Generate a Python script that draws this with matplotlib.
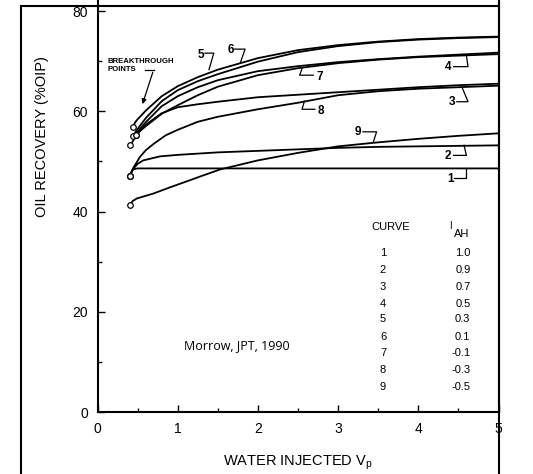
import matplotlib
matplotlib.use("Agg")
import matplotlib.pyplot as plt
from matplotlib.lines import Line2D

plt.rcParams['font.family'] = ['Liberation Sans', 'DejaVu Sans']

# curve data (water injected Vp, oil recovery %OIP)
c1_x = [0.40, 0.44, 0.50, 1.0, 2.0, 3.0, 4.0, 5.0]
c1_y = [47.1, 48.4, 48.6, 48.6, 48.6, 48.6, 48.6, 48.6]

c2_x = [0.40, 0.45, 0.50, 0.57, 0.78, 1.0, 1.5, 2.0, 2.5, 3.0, 3.5, 4.0, 4.5, 5.0]
c2_y = [47.1, 48.6, 49.5, 50.2, 51.0, 51.3, 51.8, 52.1, 52.4, 52.7, 52.9, 53.0, 53.1, 53.2]

c3_x = [0.41, 0.45, 0.50, 0.60, 0.80, 1.0, 1.25, 1.5, 2.0, 2.5, 3.0, 3.5, 4.0, 4.5, 5.0]
c3_y = [53.2, 54.3, 55.5, 57.3, 59.6, 60.8, 61.4, 61.9, 62.8, 63.3, 63.8, 64.3, 64.8, 65.2, 65.5]

c4_x = [0.48, 0.52, 0.60, 0.80, 1.0, 1.25, 1.5, 2.0, 2.5, 3.0, 3.5, 4.0, 4.5, 5.0]
c4_y = [55.3, 56.3, 57.8, 61.0, 63.0, 64.8, 66.2, 68.0, 69.0, 69.8, 70.4, 70.9, 71.3, 71.7]

c5_x = [0.44, 0.47, 0.50, 0.60, 0.80, 1.0, 1.25, 1.5, 2.0, 2.5, 3.0, 3.5, 4.0, 4.5, 5.0]
c5_y = [56.9, 57.8, 58.4, 60.1, 63.0, 65.0, 66.8, 68.3, 70.6, 72.2, 73.2, 73.9, 74.4, 74.7, 74.9]

c6_x = [0.44, 0.48, 0.52, 0.60, 0.80, 1.0, 1.25, 1.5, 2.0, 2.5, 3.0, 3.5, 4.0, 4.5, 5.0]
c6_y = [55.0, 56.0, 56.9, 58.6, 62.0, 64.2, 66.0, 67.4, 69.9, 71.8, 73.0, 73.8, 74.3, 74.6, 74.8]

c7_x = [0.48, 0.52, 0.60, 0.80, 1.0, 1.25, 1.5, 2.0, 2.5, 3.0, 3.5, 4.0, 4.5, 5.0]
c7_y = [55.3, 55.9, 57.0, 59.5, 61.2, 63.2, 64.9, 67.2, 68.6, 69.6, 70.3, 70.8, 71.1, 71.4]

c8_x = [0.40, 0.45, 0.53, 0.60, 0.70, 0.85, 1.0, 1.25, 1.5, 2.0, 2.5, 3.0, 3.5, 4.0, 4.5, 5.0]
c8_y = [47.1, 48.8, 50.9, 52.2, 53.5, 55.2, 56.3, 57.9, 58.9, 60.4, 61.7, 63.2, 64.0, 64.5, 64.8, 65.1]

c9_x = [0.40, 0.44, 0.49, 0.70, 0.90, 1.11, 1.3, 1.53, 2.0, 2.5, 3.0, 3.5, 4.0, 4.5, 5.0]
c9_y = [41.3, 42.1, 42.6, 43.6, 44.8, 46.0, 47.1, 48.4, 50.2, 51.7, 53.0, 53.8, 54.5, 55.1, 55.6]

curve_ids = ['1', '2', '3', '4', '5', '6', '7', '8', '9']
iah_values = ['1.0', '0.9', '0.7', '0.5', '0.3', '0.1', '-0.1', '-0.3', '-0.5']

fig = plt.figure(figsize=(5.33, 4.74), dpi=100)
ax = fig.add_axes([97.5 / 533, 62 / 474, 401 / 533, 412 / 474])

curves = [(c1_x, c1_y), (c2_x, c2_y), (c3_x, c3_y), (c4_x, c4_y), (c5_x, c5_y),
          (c6_x, c6_y), (c7_x, c7_y), (c8_x, c8_y), (c9_x, c9_y)]
for xs, ys in curves:
    ax.plot(xs, ys, color='black', lw=1.3, solid_capstyle='round')
    # breakthrough point
    ax.plot(xs[0], ys[0], marker='o', ms=4, mfc='white', mec='black', mew=0.9, zorder=5)

ax.set_xlim(0, 5)
ax.set_ylim(0, 82.2)
ax.set_xticks([0, 1, 2, 3, 4, 5])
ax.set_xticks([0.5, 1.5, 2.5, 3.5, 4.5], minor=True)
ax.set_yticks([0, 20, 40, 60, 80])
ax.set_yticks([10, 30, 50, 70], minor=True)
ax.tick_params(which='both', direction='in', labelsize=10, width=1.0)
ax.tick_params(which='major', length=5, pad=7)
ax.tick_params(which='minor', length=3)
ax.spines['top'].set_visible(False)
for s in ['left', 'bottom', 'right']:
    ax.spines[s].set_linewidth(1.5)

ax.set_xlabel('WATER INJECTED V$_\\mathregular{p}$', fontsize=10.5, labelpad=13)
ax.set_ylabel('OIL RECOVERY (%OIP)', fontsize=10.5, labelpad=22)
ax.yaxis.set_label_coords(-0.12, 0.668)

# hook leaders and curve numbers
def hook(px, py, label, tx, ty):
    ax.plot(px, py, color='black', lw=0.9)
    ax.text(tx, ty, label, fontsize=8.5, fontweight='bold', ha='center', va='center')

hook([1.34, 1.45, 1.39], [71.6, 71.6, 68.3], '5', 1.29, 71.2)
hook([1.71, 1.84, 1.78], [72.4, 72.4, 69.6], '6', 1.66, 72.2)
hook([2.55, 2.52, 2.69], [68.5, 67.2, 67.2], '7', 2.77, 66.8)
hook([2.58, 2.55, 2.71], [62.0, 60.4, 60.4], '8', 2.79, 60.1)
hook([4.44, 4.62, 4.60], [68.9, 68.9, 71.1], '4', 4.37, 68.8)
hook([4.48, 4.62, 4.55], [61.9, 61.9, 64.6], '3', 4.42, 61.8)
hook([4.44, 4.60, 4.57], [51.2, 51.2, 53.2], '2', 4.37, 51.1)
hook([4.44, 4.60, 4.60], [46.6, 46.6, 48.6], '1', 4.40, 46.5)
hook([3.31, 3.48, 3.44], [55.9, 55.9, 53.9], '9', 3.25, 55.8)

ax.text(0.12, 69.9, 'BREAKTHROUGH', fontsize=5.6, fontweight='bold', ha='left', va='center')
ax.text(0.12, 68.4, 'POINTS', fontsize=5.6, fontweight='bold', ha='left', va='center')
ax.plot([0.59, 0.70], [68.3, 68.3], color='black', lw=0.9)
ax.annotate('', xy=(0.55, 60.9), xytext=(0.70, 68.3),
            arrowprops=dict(arrowstyle='-|>', color='black', lw=0.9, mutation_scale=7))

# table of curves
ax.text(3.65, 36.9, 'CURVE', fontsize=8, ha='center', va='center')
ax.text(4.40, 37.2, 'I', fontsize=7, ha='center', va='center')
ax.text(4.54, 35.6, 'AH', fontsize=8, ha='center', va='center')
row_y = [31.7, 28.3, 24.9, 21.6, 18.6, 15.0, 11.7, 8.4, 5.0]
for cid, val, yy in zip(curve_ids, iah_values, row_y):
    ax.text(3.56, yy, cid, fontsize=8, ha='center', va='center')
    ax.text(4.65, yy, val, fontsize=8, ha='right', va='center')

ax.text(1.74, 13.2, 'Morrow, JPT, 1990', fontsize=9, family='Open Sans', ha='center', va='center')

# scanned figure frame
fig.add_artist(Line2D([21 / 533, 21 / 533], [0, 1 - 6 / 474], color='black', lw=1.5, transform=fig.transFigure))
fig.add_artist(Line2D([21 / 533, 498.5 / 533], [1 - 6 / 474, 1 - 6 / 474], color='black', lw=1.5, transform=fig.transFigure))
fig.add_artist(Line2D([498.5 / 533, 498.5 / 533], [0, 1], color='black', lw=1.5, transform=fig.transFigure))

plt.savefig('out.png', dpi=100)
